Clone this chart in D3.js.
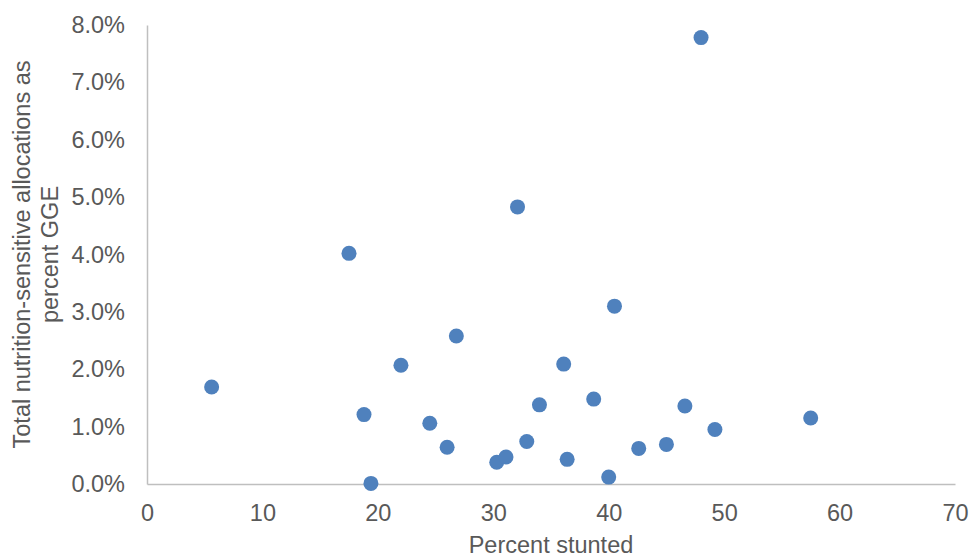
<!DOCTYPE html>
<html>
<head>
<meta charset="utf-8">
<script src="https://cdn.jsdelivr.net/npm/d3@7"></script>
<style>
  body { margin: 0; background: #fff; }
  text { font-family: "Liberation Sans", Arial, sans-serif; fill: #595959; }
</style>
</head>
<body>
<div id="scatter"></div>
<script>
// percent stunted vs nutrition-sensitive allocations (% of GGE)
var stunted = [5.6, 17.5, 18.8, 19.4, 22.0, 24.5, 26.0, 26.8, 30.3, 31.1, 32.1, 32.9,
  34.0, 36.1, 36.4, 38.7, 40.0, 40.5, 42.6, 45.0, 46.6, 48.0, 49.2, 57.5];
var allocPct = [1.69, 4.02, 1.21, 0.01, 2.07, 1.06, 0.64, 2.58, 0.38, 0.47, 4.83, 0.74,
  1.38, 2.09, 0.43, 1.48, 0.12, 3.10, 0.62, 0.69, 1.36, 7.78, 0.95, 1.15];
var xTicks = [0, 10, 20, 30, 40, 50, 60, 70];
var yTicks = [0, 1, 2, 3, 4, 5, 6, 7, 8];

var svgWidth = 970;
var svgHeight = 557;

var margin = { top: 25, right: 15, bottom: 73, left: 147 };
var width = svgWidth - margin.left - margin.right;
var height = svgHeight - margin.top - margin.bottom;

var svg = d3.select("#scatter")
  .append("svg")
  .attr("width", svgWidth)
  .attr("height", svgHeight);

var chartGroup = svg.append("g")
  .attr("transform", `translate(${margin.left}, ${margin.top})`);

var xScale = d3.scaleLinear().domain([0, 70]).range([0, 808]);
var yScale = d3.scaleLinear().domain([0, 8]).range([height, 0]);

var xAxis = d3.axisBottom(xScale).tickValues(xTicks).tickSize(0).tickPadding(20);
var yAxis = d3.axisLeft(yScale).tickValues(yTicks).tickSize(0).tickPadding(22)
  .tickFormat(d => d.toFixed(1) + "%");

var gx = chartGroup.append("g").attr("transform", `translate(0, ${height})`).call(xAxis);
var gy = chartGroup.append("g").call(yAxis);

[gx, gy].forEach(function(g) {
  g.select(".domain").attr("stroke", "#bfbfbf").attr("stroke-width", 1.5);
  g.selectAll("text").style("font-size", "23.5px").attr("fill", "#595959");
});

// axis titles
chartGroup.append("text")
  .attr("x", 404)
  .attr("y", height + 69)
  .style("text-anchor", "middle")
  .style("font-size", "23.5px")
  .text("Percent stunted");

var yTitle = chartGroup.append("text")
  .attr("transform", `translate(-117, ${height / 2}) rotate(-90)`)
  .style("text-anchor", "middle")
  .style("font-size", "23.5px");
yTitle.append("tspan").attr("x", 0).attr("dy", 0).text("Total nutrition-sensitive allocations as");
yTitle.append("tspan").attr("x", 0).attr("dy", 28).text("percent GGE");

var points = stunted.map((s, i) => ({ x: s, y: allocPct[i] }));

chartGroup.selectAll("circle")
  .data(points)
  .enter()
  .append("circle")
  .attr("r", 7.5)
  .attr("cx", d => xScale(d.x))
  .attr("cy", d => yScale(d.y))
  .attr("fill", "#4f81bd");
</script>
</body>
</html>
